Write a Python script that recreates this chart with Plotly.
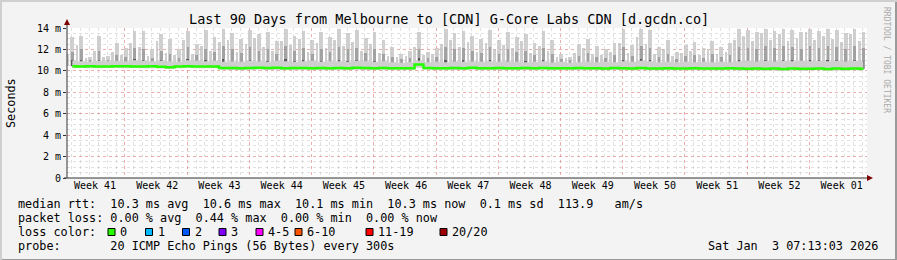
import plotly.graph_objects as go

# ---------------- data ----------------
# daily samples, x = days since graph start (90-day window)
sample_day = [i + 0.6 for i in range(90)]
sample_day_b = [i + 0.12 for i in range(90)]

median_ms = [
    10.42, 10.41, 10.42, 10.40, 10.41, 10.43, 10.42, 10.41, 10.40, 10.42,
    10.38, 10.33, 10.40, 10.42, 10.41, 10.40, 10.40, 10.27, 10.26, 10.25,
    10.27, 10.30, 10.26, 10.28, 10.25, 10.26, 10.27, 10.25, 10.26, 10.25,
    10.27, 10.25, 10.29, 10.26, 10.25, 10.27, 10.25, 10.24, 10.25, 10.60,
    10.27, 10.25, 10.24, 10.26, 10.25, 10.28, 10.25, 10.24, 10.26, 10.25,
    10.24, 10.26, 10.25, 10.27, 10.25, 10.24, 10.25, 10.26, 10.24, 10.25,
    10.23, 10.26, 10.24, 10.22, 10.27, 10.23, 10.22, 10.24, 10.22, 10.23,
    10.25, 10.22, 10.23, 10.22, 10.24, 10.21, 10.20, 10.22, 10.19, 10.21,
    10.18, 10.22, 10.19, 10.20, 10.22, 10.18, 10.21, 10.19, 10.22, 10.20,
]

smoke_min = [
    10.25, 10.26, 10.25, 10.24, 10.26, 10.27, 10.25, 10.26, 10.24, 10.25,
    10.22, 10.18, 10.24, 10.26, 10.25, 10.24, 10.24, 10.10, 10.09, 10.08,
    10.10, 10.12, 10.09, 10.10, 10.08, 10.09, 10.10, 10.08, 10.09, 10.08,
    10.10, 10.08, 10.11, 10.09, 10.08, 10.10, 10.08, 10.07, 10.08, 10.30,
    10.10, 10.08, 10.07, 10.09, 10.08, 10.10, 10.08, 10.07, 10.09, 10.08,
    10.07, 10.09, 10.08, 10.10, 10.08, 10.07, 10.08, 10.09, 10.07, 10.08,
    10.06, 10.09, 10.07, 10.05, 10.10, 10.06, 10.05, 10.07, 10.05, 10.06,
    10.08, 10.05, 10.06, 10.05, 10.07, 10.04, 10.03, 10.05, 10.02, 10.04,
    10.01, 10.05, 10.02, 10.03, 10.05, 10.01, 10.04, 10.02, 10.05, 10.03,
]

smoke_band = [
    10.95, 10.90, 10.85, 10.95, 10.90, 10.92, 10.88, 11.00, 10.95, 10.90,
    10.95, 10.90, 10.85, 11.00, 10.95, 10.90, 10.95, 10.85, 10.90, 10.85,
    10.95, 10.90, 10.85, 10.95, 10.90, 10.85, 10.90, 10.95, 10.85, 10.90,
    10.90, 10.85, 10.95, 10.90, 10.85, 10.90, 10.80, 10.75, 10.80, 10.95,
    10.80, 10.85, 10.80, 10.90, 10.85, 10.90, 10.85, 10.90, 10.85, 10.90,
    10.85, 10.80, 10.85, 10.90, 10.80, 10.85, 10.75, 10.80, 10.85, 10.80,
    10.85, 10.80, 10.90, 10.85, 10.95, 10.90, 10.80, 10.85, 10.80, 10.85,
    10.80, 10.85, 10.80, 10.85, 10.80, 10.90, 10.95, 10.90, 10.95, 10.90,
    10.95, 10.90, 10.95, 10.90, 10.95, 10.90, 10.95, 10.90, 10.95, 10.90,
]

# main daily spike
spike_max = [
    13.2, 13.3, 11.3, 13.3, 11.4, 12.6, 12.1, 13.7, 13.7, 12.0,
    13.4, 13.0, 12.0, 13.7, 12.5, 13.8, 13.2, 13.9, 13.5, 13.0,
    13.8, 13.4, 13.6, 12.8, 13.9, 13.3, 13.7, 12.9, 13.6, 13.2,
    13.9, 13.5, 13.8, 13.1, 13.6, 12.9, 12.2, 11.6, 11.9, 13.6,
    11.8, 12.1, 13.9, 13.5, 13.7, 13.3, 13.0, 13.8, 12.9, 13.6,
    13.2, 13.4, 12.6, 13.7, 12.9, 11.6, 11.3, 12.5, 13.0, 12.3,
    12.0, 12.6, 13.9, 12.4, 13.9, 13.8, 12.2, 12.9, 11.8, 12.4,
    12.7, 12.1, 12.8, 12.2, 12.6, 13.9, 13.8, 13.6, 13.9, 13.7,
    13.9, 13.8, 13.6, 13.9, 13.7, 13.9, 13.8, 13.5, 13.9, 13.6,
]

spike_body = [
    11.8, 12.0, 11.0, 11.9, 11.0, 11.5, 11.3, 12.1, 12.0, 11.2,
    11.9, 11.6, 11.2, 12.2, 11.5, 12.0, 11.8, 12.3, 12.0, 11.7,
    12.2, 11.9, 12.0, 11.6, 12.3, 11.9, 12.1, 11.6, 12.0, 11.8,
    12.2, 12.0, 12.1, 11.7, 12.0, 11.6, 11.3, 11.1, 11.2, 12.0,
    11.2, 11.3, 12.2, 12.0, 12.1, 11.9, 11.7, 12.2, 11.6, 12.0,
    11.8, 11.9, 11.5, 12.1, 11.6, 11.1, 11.0, 11.4, 11.7, 11.3,
    11.2, 11.5, 12.2, 11.4, 12.3, 12.1, 11.3, 11.6, 11.1, 11.4,
    11.5, 11.2, 11.6, 11.3, 11.5, 12.2, 12.1, 12.0, 12.3, 12.1,
    12.3, 12.2, 12.0, 12.3, 12.1, 12.3, 12.2, 12.0, 12.3, 12.1,
]

# secondary (smaller) spike seen between the main ones
spike2_max = [
    11.6, 12.4, 11.2, 11.9, 11.3, 11.8, 11.5, 12.6, 12.2, 11.4,
    12.8, 11.7, 11.5, 12.9, 11.6, 12.3, 11.9, 12.7, 12.9, 11.8,
    12.5, 13.1, 12.2, 11.9, 12.8, 12.4, 13.0, 11.8, 12.6, 12.1,
    12.9, 12.3, 12.7, 11.9, 12.5, 11.7, 11.4, 11.3, 11.4, 12.2,
    11.5, 11.6, 12.5, 12.9, 12.2, 12.7, 11.8, 12.6, 12.0, 12.4,
    12.1, 12.8, 11.7, 12.3, 11.9, 11.3, 11.2, 11.7, 12.1, 11.6,
    11.5, 11.8, 12.6, 11.7, 13.2, 12.5, 11.6, 12.0, 11.4, 11.7,
    11.9, 11.5, 12.0, 11.6, 11.8, 12.9, 13.3, 12.8, 13.5, 12.9,
    13.4, 12.8, 13.1, 13.6, 12.9, 13.3, 13.0, 12.7, 13.4, 12.8,
]

week_labels = ["Week 41", "Week 42", "Week 43", "Week 44", "Week 45", "Week 46",
               "Week 47", "Week 48", "Week 49", "Week 50", "Week 51", "Week 52",
               "Week 01"]
week_label_day = [3.15 + 7 * k for k in range(len(week_labels))]
first_week_start = 6.52

y_ticks = [0, 2, 4, 6, 8, 10, 12, 14]
y_tick_text = ["0", "2 m", "4 m", "6 m", "8 m", "10 m", "12 m", "14 m"]

legend_rows = [
    "median rtt:  10.3 ms avg  10.6 ms max  10.1 ms min  10.3 ms now  0.1 ms sd  113.9   am/s",
    "packet loss: 0.00 % avg  0.44 % max  0.00 % min  0.00 % now",
    "loss color:",
    "probe:       20 ICMP Echo Pings (56 Bytes) every 300s",
]
loss_labels = ["0", "1", "2", "3", "4-5", "6-10", "11-19", "20/20"]
loss_colors = ["#26ff00", "#00b8ff", "#0059ff", "#7e00ff", "#ff00ff",
               "#ff5500", "#ff0000", "#a10000"]
loss_box_px = [108, 145.5, 182.5, 219, 256, 295, 366, 440]

title = "Last 90 Days from Melbourne to [CDN] G-Core Labs CDN [d.gcdn.co]"
date_text = "Sat Jan  3 07:13:03 2026"

# ---------------- geometry ----------------
W, H = 897, 260
L, R, T, B = 67, 30, 28, 82
PW, PH = W - L - R, H - T - B
MONO = "DejaVu Sans Mono"
MAJOR_GRID = "rgba(255,90,90,0.38)"
MINOR_GRID = "rgba(170,170,170,0.35)"


def px(x):
    return (x - L) / PW


def py(y):
    return (H - B - y) / PH


def nb(s):
    return s.replace(" ", "\u00a0")


def bar(x, base, top, width, color):
    return go.Bar(x=x, base=base, y=[t - b for t, b in zip(top, base)],
                  width=width, marker=dict(color=color, line=dict(width=0)),
                  hoverinfo="skip", showlegend=False)


fig = go.Figure()

# continuous smoke band
fig.add_trace(go.Scatter(x=sample_day, y=smoke_min, mode="lines",
                         line=dict(width=0, shape="hvh"), hoverinfo="skip",
                         showlegend=False))
fig.add_trace(go.Scatter(x=sample_day, y=smoke_band, mode="lines",
                         line=dict(width=0, shape="hvh"), fill="tonexty",
                         fillcolor="#cfcfcf", hoverinfo="skip", showlegend=False))

# secondary spikes
fig.add_trace(bar(sample_day_b, median_ms, spike2_max, 0.3, "rgba(190,190,190,0.75)"))
# main daily spikes: light outer column, mid body, dark core
fig.add_trace(bar(sample_day, median_ms, spike_max, 0.42, "rgba(200,200,200,0.85)"))
fig.add_trace(bar(sample_day, median_ms, spike_body, 0.3, "rgba(150,150,150,0.8)"))
fig.add_trace(go.Bar(x=sample_day, base=median_ms,
                     y=[(b - m) * 0.4 for b, m in zip(spike_body, median_ms)],
                     width=0.22, marker=dict(color="#5a5a5a", line=dict(width=0)),
                     hoverinfo="skip", showlegend=False))

# median line
fig.add_trace(go.Scatter(x=sample_day, y=median_ms, mode="lines",
                         line=dict(color=loss_colors[0], width=2.5, shape="hvh"),
                         hoverinfo="skip", showlegend=False))

# overlay axis for week grid
fig.add_trace(go.Scatter(x=[0], y=[0], xaxis="x2", mode="markers",
                         marker=dict(opacity=0), hoverinfo="skip", showlegend=False))

fig.update_layout(
    width=W, height=H, autosize=False,
    margin=dict(l=L, r=R, t=T, b=B, pad=0),
    paper_bgcolor="#f3f3f3", plot_bgcolor="#ffffff",
    barmode="overlay", bargap=0,
    font=dict(family=MONO, color="#000000"),
    xaxis=dict(range=[0, 90], tickmode="array", tickvals=week_label_day,
               ticktext=week_labels, showgrid=False, zeroline=False,
               ticks="", tickfont=dict(family=MONO, size=10, color="#000"),
               showline=False,
               minor=dict(tick0=first_week_start, dtick=1, showgrid=True,
                          gridcolor=MINOR_GRID, griddash="dot", gridwidth=1)),
    xaxis2=dict(range=[0, 90], overlaying="x", anchor="y", tick0=first_week_start,
                dtick=7, tickmode="linear", showgrid=True,
                gridcolor=MAJOR_GRID, griddash="dot", gridwidth=1,
                showticklabels=False, ticks="", zeroline=False, showline=False),
    yaxis=dict(range=[0, 14], tickmode="array", tickvals=y_ticks,
               ticktext=y_tick_text, showgrid=True,
               gridcolor=MAJOR_GRID, griddash="dot", gridwidth=1,
               zeroline=False, ticks="outside", ticklen=3, tickcolor="#333",
               tickfont=dict(family=MONO, size=10, color="#000"),
               showline=False,
               minor=dict(dtick=0.5, showgrid=True,
                          gridcolor=MINOR_GRID, griddash="dot", gridwidth=1)),
)

shapes = []
# axis lines extending to arrows
shapes.append(dict(type="line", xref="paper", yref="paper", x0=0, x1=0,
                   y0=0, y1=py(22), line=dict(color="#333333", width=1)))
shapes.append(dict(type="line", xref="paper", yref="paper", x0=px(64), x1=px(869),
                   y0=0, y1=0, line=dict(color="#333333", width=1)))
# arrowheads
shapes.append(dict(type="path", xref="paper", yref="paper",
                   path=f"M {px(64)} {py(25)} L {px(70)} {py(25)} L {px(67)} {py(19)} Z",
                   fillcolor="#7f0000", line=dict(width=0)))
shapes.append(dict(type="path", xref="paper", yref="paper",
                   path=f"M {px(867)} {py(175)} L {px(867)} {py(181)} L {px(873)} {py(178)} Z",
                   fillcolor="#7f0000", line=dict(width=0)))
# outer frame
shapes.append(dict(type="rect", xref="paper", yref="paper", x0=px(0), x1=px(W),
                   y0=py(H - 1), y1=py(H), fillcolor="#9a9a9a", line=dict(width=0)))
shapes.append(dict(type="rect", xref="paper", yref="paper", x0=px(W - 2), x1=px(W),
                   y0=py(H), y1=py(0), fillcolor="#9a9a9a", line=dict(width=0)))
shapes.append(dict(type="rect", xref="paper", yref="paper", x0=px(0), x1=px(W),
                   y0=py(2), y1=py(0), fillcolor="#cfcfcf", line=dict(width=0)))
shapes.append(dict(type="rect", xref="paper", yref="paper", x0=px(0), x1=px(2),
                   y0=py(H), y1=py(0), fillcolor="#cfcfcf", line=dict(width=0)))

annotations = []
annotations.append(dict(text=nb(title), x=px(448.5), y=py(19), xref="paper",
                        yref="paper", xanchor="center", yanchor="middle",
                        showarrow=False, font=dict(family=MONO, size=13.5)))
annotations.append(dict(text="Seconds", x=px(11), y=py(103), xref="paper",
                        yref="paper", xanchor="center", yanchor="middle",
                        textangle=-90, showarrow=False,
                        font=dict(family=MONO, size=11.8)))
annotations.append(dict(text=nb("RRDTOOL / TOBI OETIKER"), x=px(887), y=py(5),
                        xref="paper", yref="paper", xanchor="center", yanchor="top",
                        textangle=90, showarrow=False,
                        font=dict(family=MONO, size=8, color="#aaaaaa")))
row_y = [204, 218, 232, 246]
for txt, yy in zip(legend_rows, row_y):
    annotations.append(dict(text=nb(txt), x=px(16), y=py(yy), xref="paper",
                            yref="paper", xanchor="left", yanchor="middle",
                            showarrow=False, font=dict(family=MONO, size=11.8)))
for lab, col, bx in zip(loss_labels, loss_colors, loss_box_px):
    shapes.append(dict(type="rect", xref="paper", yref="paper", x0=px(bx),
                       x1=px(bx + 7), y0=py(235.5), y1=py(228.5), fillcolor=col,
                       line=dict(color="#000000", width=1)))
    annotations.append(dict(text=nb(lab), x=px(bx + 10), y=py(232), xref="paper",
                            yref="paper", xanchor="left", yanchor="middle",
                            showarrow=False, font=dict(family=MONO, size=11.8)))
annotations.append(dict(text=nb(date_text), x=px(880), y=py(246), xref="paper",
                        yref="paper", xanchor="right", yanchor="middle",
                        showarrow=False, font=dict(family=MONO, size=11.8)))

fig.update_layout(shapes=shapes, annotations=annotations)
fig.write_html("out.html")
